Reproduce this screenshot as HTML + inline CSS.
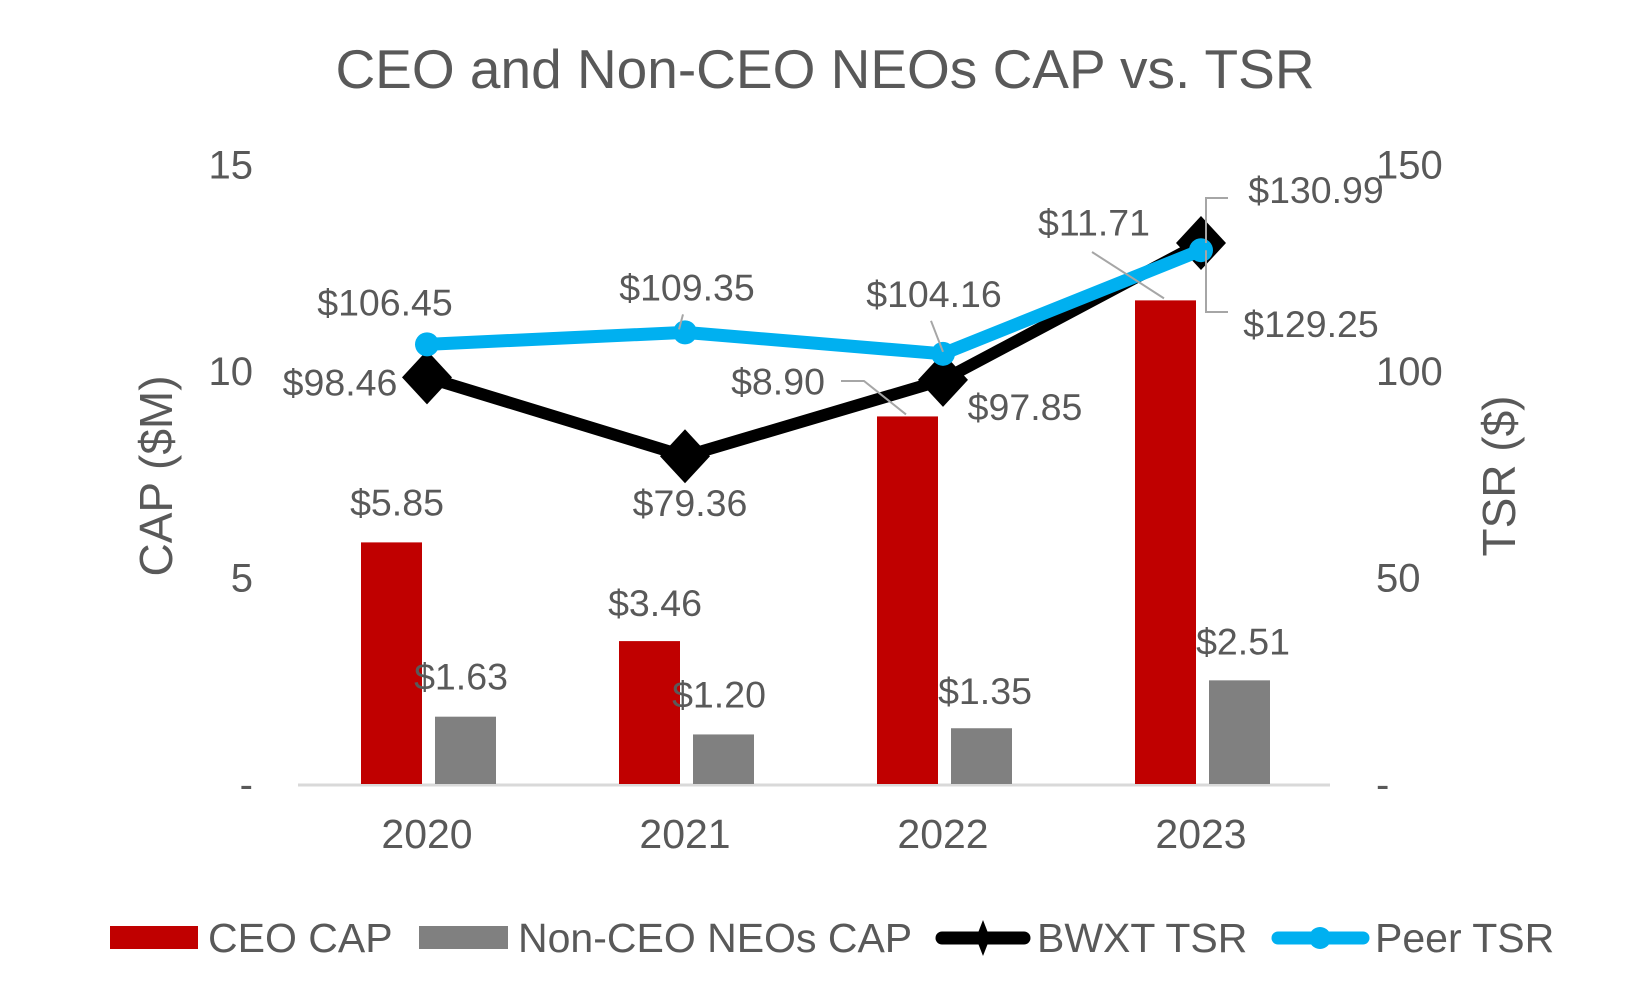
<!DOCTYPE html>
<html><head><meta charset="utf-8"><style>
html,body{margin:0;padding:0;background:#fff;}
svg{display:block;font-family:"Liberation Sans",Arial,sans-serif;}
</style></head><body>
<svg id="chart" width="1650" height="1003" viewBox="0 0 1650 1003">
<text x="825" y="88" text-anchor="middle" font-size="55" fill="#595959">CEO and Non-CEO NEOs CAP vs. TSR</text>
<text transform="translate(172,476) rotate(-90)" text-anchor="middle" font-size="46" fill="#595959">CAP ($M)</text>
<text transform="translate(1515,476) rotate(-90)" text-anchor="middle" font-size="46" fill="#595959">TSR ($)</text>
<g id="ticks"></g>
<line x1="298" y1="785" x2="1330" y2="785" stroke="#d9d9d9" stroke-width="3"/>
<g id="bars"></g>
<g id="lines"></g>
<g id="labels"></g>
<g>
<rect x="110" y="926" width="88" height="23" fill="#c00000"/>
<text x="208" y="952" font-size="41" fill="#595959">CEO CAP</text>
<rect x="419" y="926" width="89" height="23" fill="#808080"/>
<text x="518" y="952" font-size="41" fill="#595959">Non-CEO NEOs CAP</text>
<line x1="942" y1="938" x2="1024" y2="938" stroke="#000" stroke-width="13" stroke-linecap="round"/>
<path d="M983 920 L990 938 L983 956 L976 938 Z" fill="#000"/>
<text x="1037" y="952" font-size="41" fill="#595959">BWXT TSR</text>
<line x1="1278" y1="938" x2="1363" y2="938" stroke="#00b0f0" stroke-width="13" stroke-linecap="round"/>
<circle cx="1320" cy="938" r="11" fill="#00b0f0"/>
<text x="1375" y="952" font-size="41" fill="#595959">Peer TSR</text>
</g>
</svg>
<script>
const categories = ["2020","2021","2022","2023"];
const ceoCap = [5.85, 3.46, 8.90, 11.71];
const nonCeoCap = [1.63, 1.20, 1.35, 2.51];
const bwxtTsr = [98.46, 79.36, 97.85, 130.99];
const peerTsr = [106.45, 109.35, 104.16, 129.25];
const leftTicks = ["-","5","10","15"];
const leftTickValues = [0,5,10,15];
const rightTicks = ["-","50","100","150"];
const rightTickValues = [0,50,100,150];

const NS="http://www.w3.org/2000/svg";
const x0=298, plotW=1032, y0=784, yTop=164.5;
const xC = i => x0 + plotW/categories.length*(i+0.5);
const yL = v => y0 - v/15*(y0-yTop);
const yR = v => y0 - v/150*(y0-yTop);
const fmt = v => "$"+v.toFixed(2);
function mk(tag, attrs, parent){const e=document.createElementNS(NS,tag);for(const k in attrs)e.setAttribute(k,attrs[k]);parent.appendChild(e);return e;}
const gT=document.getElementById("ticks"), gB=document.getElementById("bars"), gL=document.getElementById("lines"), gLab=document.getElementById("labels");

leftTicks.forEach((t,i)=>{
  const e=mk("text",{x:253,y:yL(leftTickValues[i])+14,"text-anchor":"end","font-size":40,fill:"#595959"},gT);
  e.textContent=t;
  
  
});
rightTicks.forEach((t,i)=>{
  const e=mk("text",{x:1376,y:yR(rightTickValues[i])+14,"text-anchor":"start","font-size":40,fill:"#595959"},gT);
  e.textContent=t;
  
  
});
categories.forEach((c,i)=>{
  const e=mk("text",{x:xC(i),y:848,"text-anchor":"middle","font-size":41,fill:"#595959"},gT);
  e.textContent=c;
  
  
});

function label(txt,x,y){
  const e=mk("text",{x:x,y:y+13,"text-anchor":"middle","font-size":37.5,fill:"#595959"},gLab);
  e.textContent=txt;
  
  
}
function leader(pts){
  const e=mk("polyline",{points:pts.map(p=>p.join(",")).join(" "),fill:"none",stroke:"#a6a6a6","stroke-width":2},gLab);
  
  
}

const bw=61;
categories.forEach((c,i)=>{
  const cx=xC(i);
  const r=mk("rect",{x:cx-66,y:yL(ceoCap[i]),width:bw,height:y0-yL(ceoCap[i]),fill:"#c00000"},gB);
  
  
  const g=mk("rect",{x:cx+8,y:yL(nonCeoCap[i]),width:bw,height:y0-yL(nonCeoCap[i]),fill:"#808080"},gB);
  
  
});

const bPts=categories.map((c,i)=>[xC(i),yR(bwxtTsr[i])]);
const pPts=categories.map((c,i)=>[xC(i),yR(peerTsr[i])]);
const bl=mk("polyline",{points:bPts.map(p=>p.join(",")).join(" "),fill:"none",stroke:"#000","stroke-width":12,"stroke-linejoin":"round"},gL);


bPts.forEach((p,i)=>{
  const d=mk("path",{d:`M${p[0]} ${p[1]-27} L${p[0]+25} ${p[1]} L${p[0]} ${p[1]+27} L${p[0]-25} ${p[1]} Z`,fill:"#000"},gL);
  
  
});
const pl=mk("polyline",{points:pPts.map(p=>p.join(",")).join(" "),fill:"none",stroke:"#00b0f0","stroke-width":13,"stroke-linejoin":"round"},gL);


pPts.forEach((p,i)=>{
  const d=mk("circle",{cx:p[0],cy:p[1],r:12,fill:"#00b0f0"},gL);
  
  
});

// bar labels
const ceoOff=[[-30,-40],[-30,-38],[-165,-35],[-107,-78]];
const nonOff=[[34,-40],[34,-40],[42,-37],[42,-39]];
categories.forEach((c,i)=>{
  const cx=xC(i);
  label(fmt(ceoCap[i]),cx+ceoOff[i][0],yL(ceoCap[i])+ceoOff[i][1]);
  label(fmt(nonCeoCap[i]),cx+nonOff[i][0],yL(nonCeoCap[i])+nonOff[i][1]);
});
// TSR labels
const bOff=[[-87,5],[5,47],[82,27],[115,-53]];
const pOff=[[-42,-42],[2,-45],[-9,-60],[110,74]];
categories.forEach((c,i)=>{
  label(fmt(bwxtTsr[i]),bPts[i][0]+bOff[i][0],bPts[i][1]+bOff[i][1]);
  label(fmt(peerTsr[i]),pPts[i][0]+pOff[i][0],pPts[i][1]+pOff[i][1]);
});
// leaders
leader([[pPts[1][0]-6,pPts[1][1]-3],[pPts[1][0]-2,pPts[1][1]-18]]);
leader([[pPts[2][0]-12,pPts[2][1]-33],[pPts[2][0],pPts[2][1]-2]]);
leader([[xC(2)-102,381],[xC(2)-79,381],[xC(2)-37,yL(ceoCap[2])-2]]);
leader([[xC(3)-109,252],[xC(3)-37,yL(ceoCap[3])-2]]);
leader([[1228,198],[1206,198],[1206,bPts[3][1]]]);
leader([[1206,pPts[3][1]],[1206,312],[1228,312]]);
</script>
</body></html>
